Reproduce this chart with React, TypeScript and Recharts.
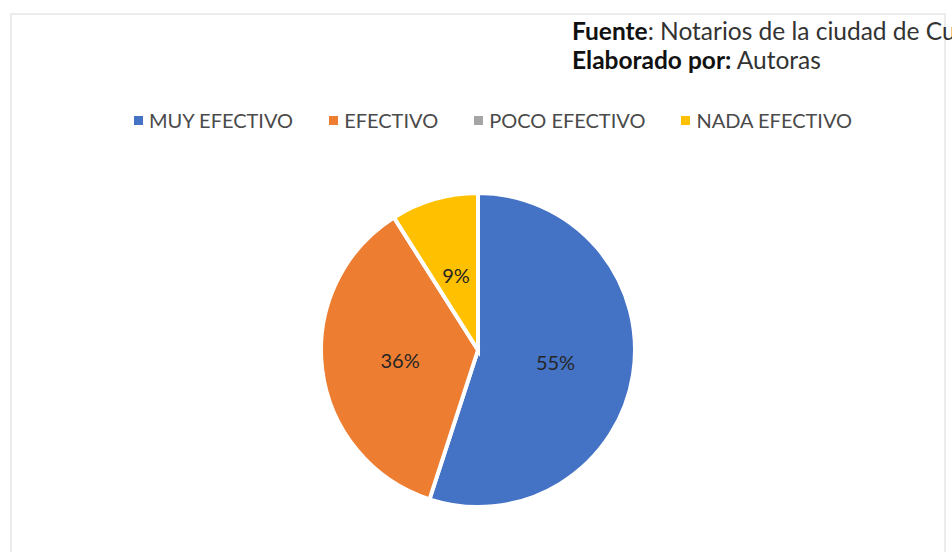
import { PieChart, Pie, Cell, Legend } from "recharts";

const categories = ["MUY EFECTIVO", "EFECTIVO", "POCO EFECTIVO", "NADA EFECTIVO"];
const values = [55, 36, 0, 9];
const colors = ["#4472C4", "#ED7D31", "#A5A5A5", "#FFC000"];

const sourceLabel = "Fuente";
const sourceText = ": Notarios de la ciudad de Cuenca";
const authorLabel = "Elaborado por:";
const authorText = " Autoras";

const FONT = "Lato, 'Open Sans', sans-serif";
const RADIAN = Math.PI / 180;

const data = categories.map((name, i) => ({ name, value: values[i] }));

const renderLabel = (props: any) => {
  const { cx, cy, midAngle, outerRadius, percent, value } = props;
  if (!value) return null;
  const r = outerRadius * 0.5;
  const x = cx + r * Math.cos(-midAngle * RADIAN);
  const y = cy + r * Math.sin(-midAngle * RADIAN);
  return (
    <text x={x} y={y} fill="#262626" textAnchor="middle" dominantBaseline="central"
      fontSize={20} fontFamily={FONT}>
      {`${Math.round(percent * 100)}%`}
    </text>
  );
};

const renderLegend = () => (
  <div style={{ display: "flex", gap: 36, paddingLeft: 134, fontFamily: FONT, fontSize: 20, color: "#4a4a4a" }}>
    {categories.map((name, i) => (
      <div key={name} style={{ display: "flex", alignItems: "center" }}>
        <span style={{ width: 9, height: 9, background: colors[i], marginRight: 6, display: "inline-block" }} />
        <span>{name}</span>
      </div>
    ))}
  </div>
);

export default function App() {
  return (
    <div style={{ position: "absolute", left: 0, top: 0, width: 952, height: 552, background: "#fff", overflow: "hidden" }}>
      <div style={{ position: "absolute", left: 10, top: 13, width: 932, height: 600, border: "2px solid #ececec" }} />

      <div style={{ position: "absolute", left: 0, top: 0 }}>
        <PieChart width={952} height={552}>
          <Legend verticalAlign="top" content={renderLegend} wrapperStyle={{ top: 108, left: 0, width: 952 }} />
          <Pie
            data={data}
            dataKey="value"
            nameKey="name"
            cx={473}
            cy={321}
            outerRadius={157}
            startAngle={90}
            endAngle={-270}
            stroke="#ffffff"
            strokeWidth={4}
            label={renderLabel}
            labelLine={false}
            isAnimationActive={false}
          >
            {data.map((_, i) => (
              <Cell key={`cell-${i}`} fill={colors[i]} />
            ))}
          </Pie>
        </PieChart>
      </div>

      <div style={{ position: "absolute", left: 572, top: 16, fontFamily: FONT, fontSize: 24.5, color: "#333", lineHeight: "29px", whiteSpace: "nowrap" }}>
        <div><b style={{ color: "#111" }}>{sourceLabel}</b>{sourceText}</div>
        <div><b style={{ color: "#111" }}>{authorLabel}</b>{authorText}</div>
      </div>
    </div>
  );
}
